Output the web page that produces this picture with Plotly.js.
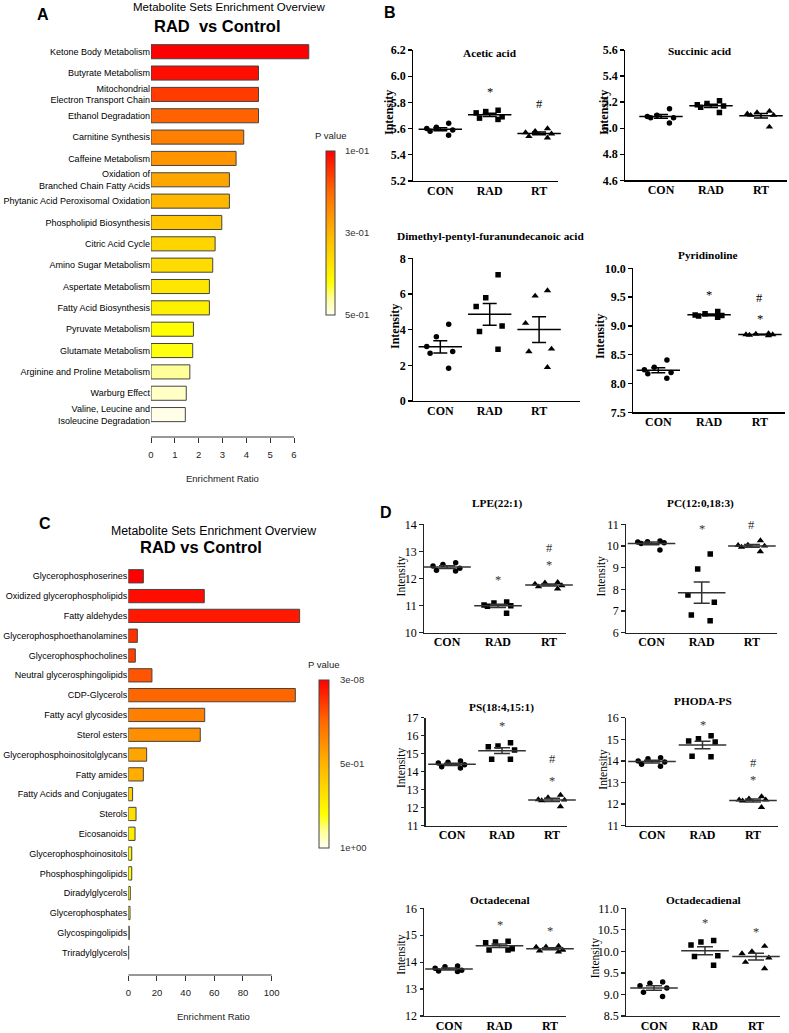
<!DOCTYPE html>
<html><head><meta charset="utf-8">
<script src="https://cdn.plot.ly/plotly-3.0.1.min.js"></script>
<style>body{margin:0;background:#fff}#chart{width:789px;height:1033px}</style>
</head><body><div id="chart"></div>
<script>
const W = 789, H = 1033;
const SANS = "Liberation Sans, Arial, sans-serif";
const SERIF = "Liberation Serif, Times New Roman, serif";
const fx = p => p / W, fy = p => 1 - p / H;

// ---------- Panel A data ----------
const setsA = ["Ketone Body Metabolism","Butyrate Metabolism","Mitochondrial<br>Electron Transport Chain","Ethanol Degradation","Carnitine Synthesis","Caffeine Metabolism","Oxidation of<br>Branched Chain Fatty Acids","Phytanic Acid Peroxisomal Oxidation","Phospholipid Biosynthesis","Citric Acid Cycle","Amino Sugar Metabolism","Aspertate Metabolism","Fatty Acid Biosynthesis","Pyruvate Metabolism","Glutamate Metabolism","Arginine and Proline Metabolism","Warburg Effect","Valine, Leucine and<br>Isoleucine Degradation"];
const ratioA = [6.62,4.51,4.51,4.51,3.89,3.57,3.29,3.29,2.97,2.69,2.59,2.45,2.45,1.78,1.75,1.63,1.48,1.44];
const pvalA = [0.100,0.112,0.156,0.192,0.228,0.256,0.280,0.304,0.328,0.352,0.364,0.380,0.396,0.420,0.424,0.460,0.480,0.496];
const ticksA = [0,1,2,3,4,5,6];
const pTicksA = [0.1,0.3,0.5];
const pLabelsA = ["1e-01","3e-01","5e-01"];

// ---------- Panel C data ----------
const setsC = ["Glycerophosphoserines","Oxidized glycerophospholipids","Fatty aldehydes","Glycerophosphoethanolamines","Glycerophosphocholines","Neutral glycerosphingolipids","CDP-Glycerols","Fatty acyl glycosides","Sterol esters","Glycerophosphoinositolglycans","Fatty amides","Fatty Acids and Conjugates","Sterols","Eicosanoids","Glycerophosphoinositols","Phosphosphingolipids","Diradylglycerols","Glycerophosphates","Glycospingolipids","Triradylglycerols"];
const ratioC = [10.5,53,119.5,6.3,4.9,16.5,116.5,53.3,50.2,12.8,10.5,3.0,5.4,4.7,2.4,2.4,1.4,1.2,0.7,0.3];
const pvalC = [3e-8,0.03,0.06,0.12,0.15,0.20,0.24,0.32,0.37,0.45,0.48,0.60,0.67,0.72,0.76,0.78,0.80,0.83,0.88,0.95];
const ticksC = [0,20,40,60,80,100];
const pTicksC = [3e-8,0.5,1];
const pLabelsC = ["3e-08","5e-01","1e+00"];

// ---------- Panels B and D data (CON, RAD, RT) ----------
const groups = ["CON","RAD","RT"];
const acetic = [[5.64,5.61,5.60,5.58,5.55,5.59],[5.74,5.73,5.72,5.69,5.68,5.67],[5.60,5.58,5.57,5.56,5.54,5.53]];
const aceticSig = [["RAD",5.905,"*"],["RT",5.79,"#"]];
const succinic = [[5.15,5.10,5.09,5.08,5.08,5.04],[5.21,5.19,5.18,5.17,5.16,5.12],[5.13,5.12,5.11,5.10,5.10,5.01]];
const succinicSig = [];
const dimethyl = [[4.30,3.60,3.05,2.77,2.67,1.83],[7.08,5.79,5.30,4.20,3.90,2.90],[6.19,5.89,4.36,2.92,2.77,1.89]];
const dimethylSig = [];
const pyridinoline = [[8.41,8.28,8.24,8.19,8.17,8.09],[9.25,9.21,9.19,9.18,9.17,9.15],[8.87,8.86,8.85,8.84,8.83,8.85]];
const pyridinolineSig = [["RAD",9.58,"*"],["RT",9.49,"#"],["RT",9.17,"*"]];
const lpe = [[12.58,12.52,12.46,12.38,12.30,12.28],[11.13,11.10,11.02,10.99,10.98,10.72],[11.86,11.84,11.80,11.74,11.70,11.62]];
const lpeSig = [["RAD",12.07,"*"],["RT",12.6,"*"],["RT",13.14,"#"]];
const pc = [[10.23,10.20,10.18,10.15,10.12,9.82],[9.63,8.94,7.74,7.40,6.82,6.55],[10.25,10.05,10.03,10.00,9.95,9.74]];
const pcSig = [["RAD",10.9,"*"],["RT",10.97,"#"]];
const ps = [[14.60,14.52,14.48,14.38,14.28,14.20],[15.61,15.43,15.39,15.20,14.69,14.69],[12.70,12.56,12.45,12.43,12.40,12.06]];
const psSig = [["RAD",16.69,"*"],["RT",14.69,"#"],["RT",13.63,"*"]];
const phoda = [[14.15,14.10,14.00,13.95,13.85,13.75],[15.17,15.02,14.92,14.88,14.22,14.19],[12.35,12.25,12.20,12.20,12.15,11.85]];
const phodaSig = [["RAD",15.81,"*"],["RT",13.89,"#"],["RT",13.27,"*"]];
const octadecenal = [[13.86,13.83,13.77,13.70,13.67,13.65],[14.78,14.75,14.72,14.50,14.45,14.45],[14.60,14.57,14.56,14.45,14.42,14.38]];
const octadecenalSig = [["RAD",15.5,"*"],["RT",15.26,"*"]];
const octadecadienal = [[9.29,9.26,9.20,9.15,9.05,8.95],[10.25,10.22,10.15,9.90,9.88,9.68],[10.12,10.00,9.95,9.85,9.75,9.60]];
const octadecadienalSig = [["RAD",10.74,"*"],["RT",10.51,"*"]];

// ---------- build ----------
const data = [];
const layout = {width:W, height:H, margin:{l:0,r:0,t:0,b:0}, paper_bgcolor:'#fff', plot_bgcolor:'rgba(0,0,0,0)',
  showlegend:false, boxmode:'overlay', annotations:[], shapes:[]};
const cscale = [[0,'#FFFFF2'],[0.1,'#FFFF99'],[0.2,'#FFFF00'],[0.5,'#FFB400'],[0.75,'#FF6A00'],[1,'#FF0000']];

function note(x, y, text, font, extra) {
  layout.annotations.push(Object.assign({xref:'paper', yref:'paper', x:fx(x), y:fy(y), text, showarrow:false,
    xanchor:'center', yanchor:'middle', font}, extra || {}));
}

function enrichPanel(n, sets, ratios, pvals, ticks, pTicks, pLabels, g) {
  const xr = 'x' + n, yr = 'y' + n;
  const pmin = Math.min(...pTicks), pmax = Math.max(...pTicks);
  data.push({type:'bar', orientation:'h', x:ratios, y:sets, xaxis:xr, yaxis:yr, width:g.barW, hoverinfo:'skip',
    marker:{color:pvals.map(p => -p), colorscale:cscale, cmin:-pmax, cmax:-pmin, line:{color:'#444', width:1},
      showscale:true,
      colorbar:{x:fx(g.cbx), xanchor:'left', y:fy(g.cby0), yanchor:'top', len:(g.cby1 - g.cby0) / H, lenmode:'fraction',
        thickness:g.cbw, thicknessmode:'pixels', xpad:0, ypad:0, outlinewidth:1, outlinecolor:'#444',
        tickvals:pTicks.map(v => -v), ticktext:pLabels, ticks:'outside', ticklen:g.cbgap, tickcolor:'rgba(0,0,0,0)',
        tickfont:{family:SANS, size:9.5, color:'#333'}}}});
  layout['xaxis' + n] = {domain:[fx(g.x0), fx(g.x1)], range:[0, g.xmax], anchor:yr, tickvals:ticks, ticks:'outside',
    ticklen:5, tickcolor:'#333', tickwidth:1, showline:false, showgrid:false, zeroline:false,
    tickfont:{family:SANS, size:9.5, color:'#222'}, ticklabelstandoff:4};
  layout['yaxis' + n] = {domain:[fy(g.y1), fy(g.y0)], type:'category', categoryorder:'array', categoryarray:sets,
    range:[g.ybot, -0.6], anchor:xr, ticks:'', showgrid:false, zeroline:false, showline:false,
    tickfont:{family:SANS, size:9, color:'#000'}};
  layout.shapes.push({type:'line', xref:xr, yref:'paper', x0:ticks[0], x1:ticks[ticks.length - 1],
    y0:fy(g.y1), y1:fy(g.y1), line:{color:'#333', width:1}});
}

enrichPanel(1, setsA, ratioA, pvalA, ticksA, pTicksA, pLabelsA,
  {x0:151, x1:310.7, xmax:6.7, y0:38.9, y1:437, ybot:18.05, barW:0.66, cbx:326, cby0:151, cby1:315, cbw:9, cbgap:8});
enrichPanel(2, setsC, ratioC, pvalC, ticksC, pTicksC, pLabelsC,
  {x0:128.3, x1:303.2, xmax:122, y0:564.4, y1:975, ybot:20.13, barW:0.67, cbx:319, cby0:680, cby1:848.3, cbw:10, cbgap:9});

note(222.5, 478, "Enrichment Ratio", {family:SANS, size:9.5, color:'#222'});
note(213.3, 1016.7, "Enrichment Ratio", {family:SANS, size:9.5, color:'#222'});
note(331, 135.7, "P value", {family:SANS, size:9.5, color:'#222'});
note(324, 664.3, "P value", {family:SANS, size:9.5, color:'#222'});
note(229, 6.5, "Metabolite Sets Enrichment Overview", {family:SANS, size:11.5, color:'#000'});
note(217.7, 26, "<b>RAD \u00a0vs Control</b>", {family:SANS, size:16.5, color:'#000'});
note(213.8, 531, "Metabolite Sets Enrichment Overview", {family:SANS, size:12.3, color:'#000'});
note(200.8, 546.5, "<b>RAD vs Control</b>", {family:SANS, size:16.5, color:'#000'});
note(43, 14, "<b>A</b>", {family:SANS, size:16, color:'#000'});
note(390, 12.5, "<b>B</b>", {family:SANS, size:16, color:'#000'});
note(45, 523, "<b>C</b>", {family:SANS, size:16, color:'#000'});
note(386, 513, "<b>D</b>", {family:SANS, size:16, color:'#000'});

const symbols = ['circle','square','triangle-up'];
const msize = [5.5,5.5,6.5];

function dotPlot(n, title, vals, sig, g, st) {
  const xr = 'x' + n, yr = 'y' + n;
  groups.forEach((grp, i) => {
    data.push({type:'box', x:vals[i].map(() => grp), y:vals[i], xaxis:xr, yaxis:yr, boxpoints:'all', jitter:0.9,
      pointpos:0, width:0.72, fillcolor:'rgba(0,0,0,0)', line:{color:'rgba(0,0,0,0)', width:0}, whiskerwidth:0,
      marker:{symbol:symbols[i], color:'#000', size:msize[i]}, hoverinfo:'skip'});
  });
  const means = vals.map(a => a.reduce((s, v) => s + v, 0) / a.length);
  const sems = vals.map((a, i) => Math.sqrt(a.reduce((s, v) => s + (v - means[i]) ** 2, 0) / (a.length - 1)) / Math.sqrt(a.length));
  data.push({type:'scatter', mode:'markers', x:groups, y:means, xaxis:xr, yaxis:yr, hoverinfo:'skip', cliponaxis:false,
    marker:{symbol:'line-ew', size:st.meanW, color:st.lc, line:{color:st.lc, width:1.5}},
    error_y:{type:'data', array:sems, visible:true, color:st.lc, thickness:1.5, width:st.capW}});
  layout['xaxis' + n] = {domain:[fx(g.x0), fx(g.x1)], range:[(g.x0 - g.c0) / g.dc, (g.x1 - g.c0) / g.dc], anchor:yr,
    type:'category', categoryorder:'array', categoryarray:groups, showline:true, linecolor:st.ac, linewidth:1.3,
    ticks:'', showgrid:false, zeroline:false, ticklabelstandoff:-2,
    tickfont:{family:SERIF, size:12, color:'#000', weight:'bold'}};
  layout['yaxis' + n] = {domain:[fy(g.y1), fy(g.y0)], range:g.yr, dtick:g.dt, tick0:g.yr[0], tickformat:g.tf, anchor:xr,
    showline:true, linecolor:st.ac, linewidth:1.3, ticks:'outside', ticklen:3.5, tickwidth:1.3, tickcolor:st.ac,
    showgrid:false, zeroline:false, tickfont:{family:SERIF, size:12, color:'#000', weight:st.tw}};
  note(g.tx, g.ty, title, {family:SERIF, size:11.3, color:'#000', weight:'bold'});
  note(g.ix, g.iy, "Intensity", {family:SERIF, size:st.isz, color:'#000', weight:st.tw}, {textangle:-90});
  sig.forEach(s => layout.annotations.push({xref:xr, yref:yr, x:s[0], y:s[1], text:s[2], showarrow:false,
    xanchor:'center', yanchor:'middle', yshift:s[2] === '*' ? -3 : 0, font:{family:SERIF, size:12.5, color:st.sc}}));
}

const styleB = {lc:'#000', ac:'#000', tw:'bold', isz:12, meanW:31, capW:7, sc:'#000'};
const styleD = {lc:'#333', ac:'#222', tw:'normal', isz:11.5, meanW:34, capW:8, sc:'#333'};

dotPlot(3, "Acetic acid", acetic, aceticSig,
  {x0:413, x1:558, y0:50, y1:181, c0:440.3, dc:49.4, yr:[5.2,6.2], dt:0.2, tf:'.1f', tx:490, ty:53, ix:389, iy:113}, styleB);
dotPlot(4, "Succinic acid", succinic, succinicSig,
  {x0:625, x1:787, y0:50, y1:180.3, c0:661, dc:50, yr:[4.6,5.6], dt:0.2, tf:'.1f', tx:700, ty:51, ix:604, iy:113}, styleB);
dotPlot(5, "Dimethyl-pentyl-furanundecanoic acid", dimethyl, dimethylSig,
  {x0:413, x1:580, y0:258.3, y1:401, c0:440.3, dc:49.4, yr:[0,8], dt:2, tf:'d', tx:490, ty:236, ix:395, iy:327}, styleB);
dotPlot(6, "Pyridinoline", pyridinoline, pyridinolineSig,
  {x0:633, x1:785, y0:268.3, y1:412.3, c0:658.3, dc:50.8, yr:[7.5,10], dt:0.5, tf:'.1f', tx:708, ty:255, ix:600, iy:337}, styleB);
dotPlot(7, "LPE(22:1)", lpe, lpeSig,
  {x0:424, x1:566, y0:524.3, y1:632.7, c0:447, dc:51, yr:[10,14], dt:1, tf:'d', tx:497, ty:503.3, ix:401.7, iy:576.7}, styleD);
dotPlot(8, "PC(12:0,18:3)", pc, pcSig,
  {x0:626, x1:777, y0:524.3, y1:632.7, c0:651.5, dc:50.2, yr:[6,11], dt:1, tf:'d', tx:700.8, ty:504, ix:601.7, iy:576.7}, styleD);
dotPlot(9, "PS(18:4,15:1)", ps, psSig,
  {x0:425.7, x1:567, y0:717.7, y1:825.7, c0:452, dc:50, yr:[11,17], dt:1, tf:'d', tx:501.7, ty:707.3, ix:401.7, iy:768.3}, styleD);
dotPlot(10, "PHODA-PS", phoda, phodaSig,
  {x0:626, x1:778, y0:717.7, y1:825.7, c0:652, dc:50.5, yr:[11,16], dt:1, tf:'d', tx:703.3, ty:700.7, ix:602.7, iy:770}, styleD);
dotPlot(11, "Octadecenal", octadecenal, octadecenalSig,
  {x0:424.3, x1:566, y0:908.3, y1:1016, c0:449, dc:50.5, yr:[12,16], dt:1, tf:'d', tx:500, ty:900, ix:400.7, iy:955}, styleD);
dotPlot(12, "Octadecadienal", octadecadienal, octadecadienalSig,
  {x0:626, x1:780, y0:908.3, y1:1016, c0:654, dc:51, yr:[8.5,11], dt:0.5, tf:'.1f', tx:703.3, ty:900, ix:595, iy:958.3}, styleD);

Plotly.newPlot('chart', data, layout, {staticPlot:true, displayModeBar:false});
</script></body></html>
